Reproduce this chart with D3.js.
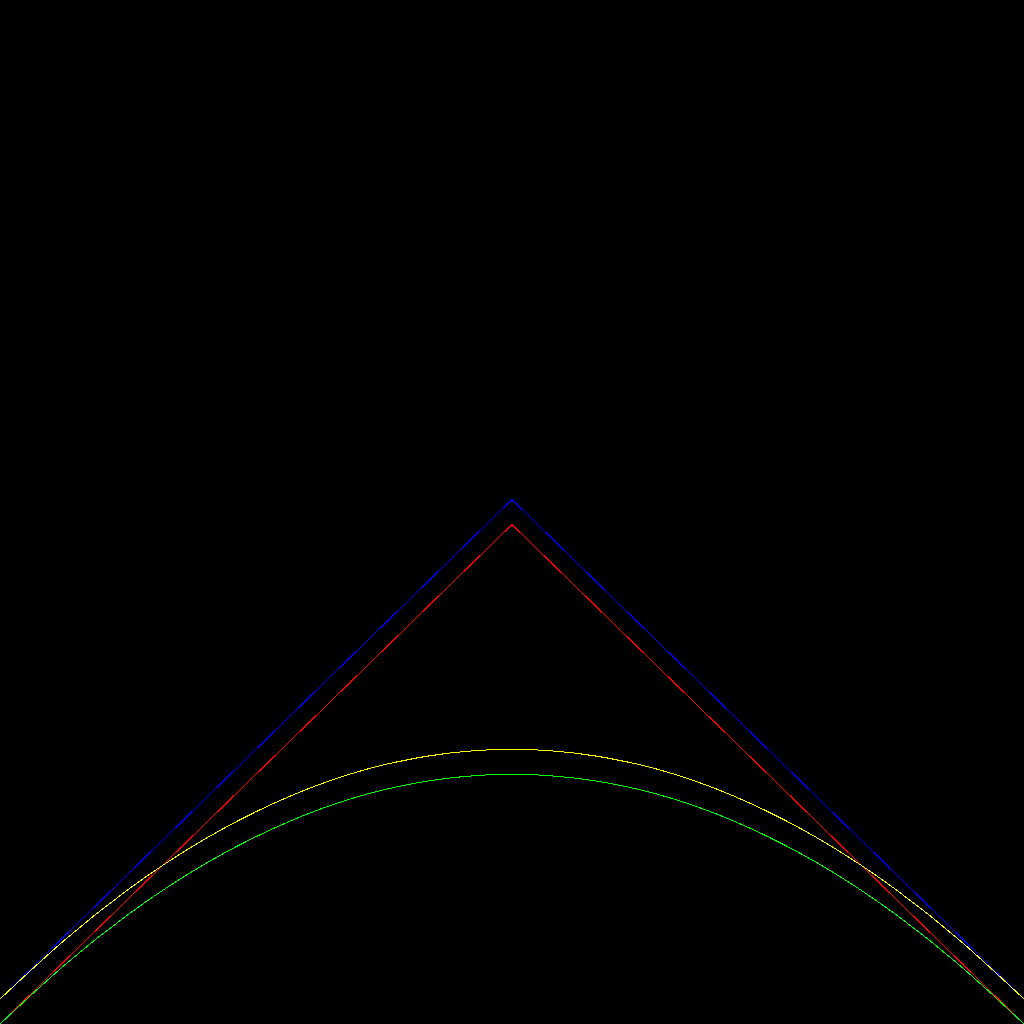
<!DOCTYPE html>
<html>
<head>
<meta charset="utf-8">
<script src="https://cdn.jsdelivr.net/npm/d3@7"></script>
<style>
    html, body { margin: 0; padding: 0; background: #000; }
    svg { display: block; }
</style>
</head>
<body>
<div id="chart"></div>
<script>
// sample positions along x
var xsV = [-1, 0, 1];
var xsCurve = [-1, -0.875, -0.75, -0.625, -0.5, -0.375, -0.25, -0.125, 0,
               0.125, 0.25, 0.375, 0.5, 0.625, 0.75, 0.875, 1];

// series values
var blueVals = [0, 1, 0];
var redVals = [-0.05, 0.95, -0.05];
var yellowVals = [0, 0.117, 0.219, 0.305, 0.375, 0.43, 0.469, 0.492, 0.5,
                  0.492, 0.469, 0.43, 0.375, 0.305, 0.219, 0.117, 0];
var greenVals = [-0.05, 0.067, 0.169, 0.255, 0.325, 0.38, 0.419, 0.442, 0.45,
                 0.442, 0.419, 0.38, 0.325, 0.255, 0.169, 0.067, -0.05];

var W = 1024, H = 1024;

var svg = d3.select("#chart").append("svg")
    .attr("width", W)
    .attr("height", H);

svg.append("rect").attr("width", W).attr("height", H).attr("fill", "#000");

var x = d3.scaleLinear().domain([-1, 1]).range([0, W]);
var y = d3.scaleLinear().domain([-0.05, 2]).range([H, 0]);

function zip(xs, ys) {
    return xs.map(function(v, i) { return [v, ys[i]]; });
}

var straight = d3.line()
    .x(function(d) { return x(d[0]); })
    .y(function(d) { return y(d[1]); });

var smooth = d3.line()
    .x(function(d) { return x(d[0]); })
    .y(function(d) { return y(d[1]); })
    .curve(d3.curveNatural);

var series = [
    { pts: zip(xsV, blueVals), color: "#0000ff", gen: straight },
    { pts: zip(xsV, redVals), color: "#ff0000", gen: straight },
    { pts: zip(xsCurve, yellowVals), color: "#ffff00", gen: smooth },
    { pts: zip(xsCurve, greenVals), color: "#00ff00", gen: smooth }
];

series.forEach(function(s) {
    svg.append("path")
        .attr("d", s.gen(s.pts))
        .attr("fill", "none")
        .attr("stroke", s.color)
        .attr("stroke-width", 1)
        .attr("shape-rendering", "crispEdges");
});
</script>
</body>
</html>
